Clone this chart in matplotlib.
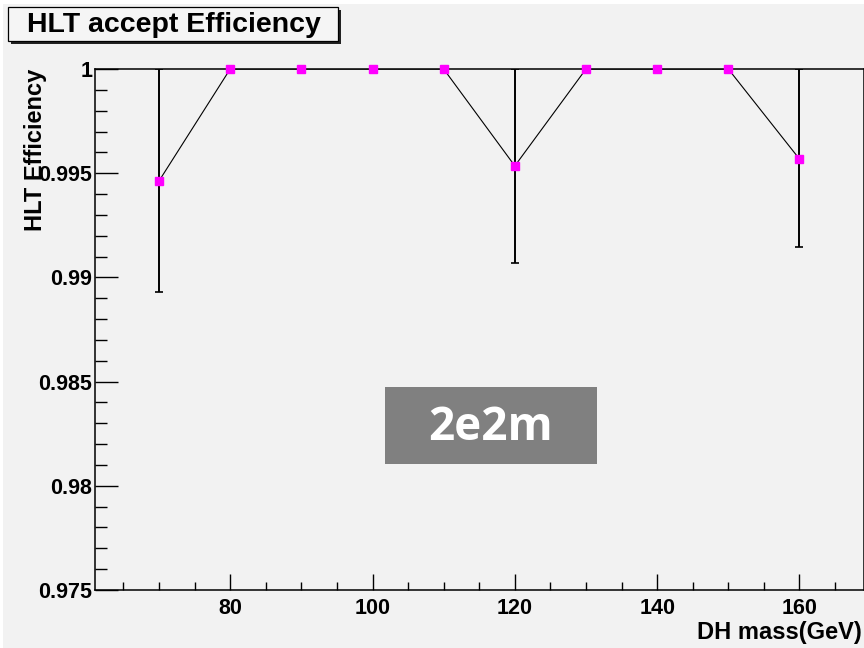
import numpy as np
import matplotlib
matplotlib.use("Agg")
import matplotlib.pyplot as plt
from matplotlib.patches import Rectangle
from matplotlib.ticker import MultipleLocator, FixedFormatter, FixedLocator

# HLT efficiency per dark-Higgs mass point (2e2m channel)
mass = [70, 80, 90, 100, 110, 120, 130, 140, 150, 160]
eff = [0.99463, 1.0, 1.0, 1.0, 1.0, 0.99535, 1.0, 1.0, 1.0, 0.99568]
err_low = [0.00533, 0, 0, 0, 0, 0.00466, 0, 0, 0, 0.00422]
err_high = [1.0 - e for e in eff]

y_ticks = [0.975, 0.98, 0.985, 0.99, 0.995, 1.0]
y_ticklabels = ["0.975", "0.98", "0.985", "0.99", "0.995", "1"]

W, H = 864, 648
bg = "#f2f2f2"
plt.rcParams["font.family"] = ["Liberation Sans", "DejaVu Sans"]

fig = plt.figure(figsize=(W / 100, H / 100), dpi=100, facecolor=bg)

def px_rect(x0, y0, x1, y1, **kw):
    # rectangle given in pixel coords measured from the top-left corner
    return Rectangle((x0 / W, 1 - y1 / H), (x1 - x0) / W, (y1 - y0) / H,
                     transform=fig.transFigure, **kw)

# thin white margins along the top and left
fig.patches.append(px_rect(0, 0, W, 4, facecolor="white", edgecolor="none", zorder=0))
fig.patches.append(px_rect(0, 0, 3, H, facecolor="white", edgecolor="none", zorder=0))

ax = fig.add_axes([95 / W, 1 - 590 / H, (863.5 - 95) / W, (590 - 69) / H])
ax.set_facecolor(bg)

ax.errorbar(mass, eff, yerr=[err_low, err_high], fmt="none", ecolor="black",
            elinewidth=1.4, capsize=3, capthick=1.2, zorder=2)
ax.plot(mass, eff, "-", color="black", lw=0.8, zorder=3)
ax.plot(mass, eff, "s", color="#ff00ff", ms=5.5, mec="#ff00ff", zorder=4,
        clip_on=False)

ax.set_xlim(61, 169)
ax.set_ylim(0.975, 1.0)
ax.xaxis.set_major_locator(MultipleLocator(20))
ax.xaxis.set_minor_locator(MultipleLocator(5))
ax.yaxis.set_major_locator(FixedLocator(y_ticks))
ax.yaxis.set_major_formatter(FixedFormatter(y_ticklabels))
ax.yaxis.set_minor_locator(MultipleLocator(0.001))

for s in ax.spines.values():
    s.set_linewidth(1.1)
ax.tick_params(axis="both", which="both", direction="in", top=False, right=False,
               width=1.0, labelsize=15.5)
ax.tick_params(axis="y", which="major", length=16.5, pad=2)
ax.tick_params(axis="y", which="minor", length=8.3)
ax.tick_params(axis="x", which="major", length=11.5, pad=6)
ax.tick_params(axis="x", which="minor", length=5.8)
for lab in ax.get_xticklabels() + ax.get_yticklabels():
    lab.set_fontweight("bold")

# axis titles
fig.text(862 / W, 1 - 633 / H, "DH mass(GeV)", ha="right", va="center",
         fontsize=17, fontweight="bold")
fig.text(36 / W, 1 - 69 / H, "HLT Efficiency", ha="center", va="top",
         rotation=90, fontsize=17, fontweight="bold")

# title box with drop shadow
fig.patches.append(px_rect(11, 10, 341, 44, facecolor="#222222", edgecolor="none", zorder=5))
fig.patches.append(px_rect(8, 7, 338, 41, facecolor="#f5f5f5", edgecolor="black",
                           lw=0.9, zorder=6))
fig.text(174 / W, 1 - 24.5 / H, "HLT accept Efficiency", ha="center", va="center",
         fontsize=20.5, fontweight="bold", zorder=7)

# channel label
fig.patches.append(px_rect(385, 387, 597, 464, facecolor="#808080", edgecolor="none", zorder=5))
fig.text(491 / W, 1 - 428 / H, "2e2m", ha="center", va="center", color="white",
         fontsize=33, fontweight="bold", family=["Open Sans", "DejaVu Sans"], zorder=7)

fig.savefig("out.png", dpi=100, facecolor=bg)
